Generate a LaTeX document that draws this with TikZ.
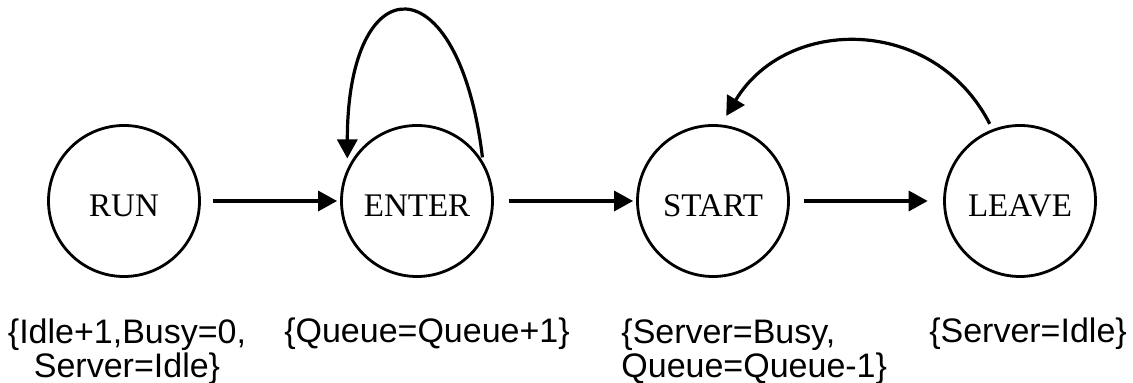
\documentclass[tikz,border=0pt]{standalone}
\usepackage{fontspec}
\usetikzlibrary{arrows.meta}
\newfontfamily\lblfont{Liberation Sans}
\newfontfamily\statefont{Liberation Serif}
\tikzset{
  state/.style={circle, draw, line width=1.4pt, minimum size=75.5pt, inner sep=0pt,
    font=\statefont\fontsize{16.5}{19}\selectfont, text height=16pt, text depth=0pt},
  lbl/.style={font=\lblfont\fontsize{17}{17}\selectfont, inner sep=0pt},
  arr/.style={line width=1.6pt, -{Triangle[length=9.5pt,width=10pt]}},
}
\begin{document}
\begin{tikzpicture}[x=0.5pt,y=0.5pt]
\useasboundingbox (0,0) rectangle (1133,383);
\node[state] (run)   at (124,182) {RUN};
\node[state] (enter) at (417,182) {ENTER};
\node[state] (start) at (713,182) {START};
\node[state] (leave) at (1020,182) {LEAVE};

\node[lbl, anchor=north, align=center] (runlbl) at (127,65) {\{Idle+1,Busy=0,\\Server=Idle\}};
\node[lbl, anchor=base] (enterlbl) at (427,40) {\{Queue=Queue+1\}};
\node[lbl, anchor=north west, align=left] (startlbl) at (621,65) {\{Server=Busy,\\Queue=Queue-1\}};
\node[lbl, anchor=base] (leavelbl) at (1028,40) {\{Server=Idle\}};

\draw[arr, shorten <=6.2pt, shorten >=1.5pt] (run) -- (enter);
\draw[arr, shorten <=7.5pt, shorten >=1.5pt] (enter) -- (start);
\draw[arr, shorten <=7pt, shorten >=7.7pt] (start) -- (leave);
\draw[arr, shorten <=2pt, shorten >=5pt] (enter.31) .. controls +(-24,200) and +(0,205) .. (enter.155);
\draw[arr, shorten <=3pt, shorten >=5pt] (leave.111) to[out=117, in=59, looseness=1.2] (start.84);
\end{tikzpicture}
\end{document}
